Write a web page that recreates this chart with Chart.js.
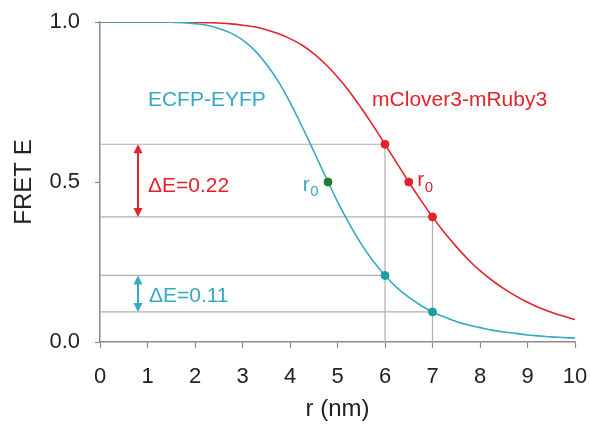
<!DOCTYPE html>
<html>
<head>
<meta charset="utf-8">
<script src="https://cdn.jsdelivr.net/npm/chart.js@4/dist/chart.umd.min.js"></script>
<style>
  html, body { margin: 0; padding: 0; background: #ffffff; }
  #c { display: block; }
</style>
</head>
<body>
<canvas id="c" width="590" height="427"></canvas>
<script>
// ---- data ----
const rValues = [0,0.25,0.5,0.75,1,1.25,1.5,1.75,2,2.25,2.5,2.75,3,3.25,3.5,3.75,4,4.25,4.5,4.75,5,5.25,5.5,5.75,6,6.25,6.5,6.75,7,7.25,7.5,7.75,8,8.25,8.5,8.75,9,9.25,9.5,9.75,10];
const ecfpE = [1.000,1.000,1.000,1.000,1.000,1.000,0.999,0.998,0.995,0.990,0.980,0.966,0.944,0.912,0.869,0.815,0.749,0.675,0.596,0.516,0.439,0.369,0.306,0.253,0.208,0.170,0.140,0.115,0.094,0.078,0.064,0.053,0.045,0.037,0.031,0.027,0.022,0.019,0.016,0.014,0.012];
const cloverE = [1.000,1.000,1.000,1.000,1.000,1.000,1.000,1.000,0.999,0.998,0.997,0.994,0.990,0.985,0.976,0.964,0.948,0.928,0.901,0.868,0.828,0.783,0.731,0.676,0.618,0.559,0.500,0.444,0.391,0.342,0.298,0.258,0.223,0.193,0.167,0.144,0.124,0.107,0.093,0.081,0.070];

const cloverPtsR = [6, 6.5, 7];
const cloverPtsE = [0.618, 0.500, 0.391];
const ecfpPtsR = [6, 7];
const ecfpPtsE = [0.208, 0.094];
const ecfpR0 = [4.8];
const ecfpR0E = [0.5];

const xTicks = [0,1,2,3,4,5,6,7,8,9,10];
const yTicks = [0.0, 0.5, 1.0];

const deltaRed = [0.618, 0.391];   // ΔE = 0.22
const deltaCyan = [0.208, 0.094];  // ΔE = 0.11
const arrowR = 0.8;

// ---- styling ----
const RED = '#e4222c';
const CYAN = '#36a9c4';
const TEAL = '#1c9ea2';
const GREEN = '#1f7f2c';
const GRAY = '#b0b0b0';
const AXIS = '#8a8a8a';
const FONT = '"Liberation Sans", Arial, Helvetica, sans-serif';

const pts = (xs, ys) => xs.map((x, i) => ({x: x, y: ys[i]}));

// reference (guide) lines built from the marked points
const guideSets = [
  pts([0, cloverPtsR[0], cloverPtsR[0]], [cloverPtsE[0], cloverPtsE[0], 0]),
  pts([0, cloverPtsR[2], cloverPtsR[2]], [cloverPtsE[2], cloverPtsE[2], 0]),
  pts([0, ecfpPtsR[0]], [ecfpPtsE[0], ecfpPtsE[0]]),
  pts([0, ecfpPtsR[1]], [ecfpPtsE[1], ecfpPtsE[1]])
].map(d => ({
  data: d, borderColor: GRAY, borderWidth: 1.2, pointRadius: 0, tension: 0, order: 5
}));

const annotations = [
  {text: 'ECFP-EYFP', x: 2.25, y: 0.757, color: CYAN, align: 'center'},
  {text: 'mClover3-mRuby3', x: 7.57, y: 0.757, color: RED, align: 'center'},
  {text: 'ΔE=0.22', x: 1.01, y: 0.486, color: RED, align: 'left'},
  {text: 'ΔE=0.11', x: 1.03, y: 0.142, color: CYAN, align: 'left'}
];
const subLabels = [
  {x: 4.27, y: 0.49, color: CYAN},
  {x: 6.68, y: 0.505, color: RED}
];

const overlay = {
  id: 'overlay',
  afterDatasetsDraw(chart) {
    const {ctx, scales: {x, y}} = chart;
    ctx.save();
    // double arrows
    const arrow = (r, e1, e2, color) => {
      const px = x.getPixelForValue(r);
      const y1 = y.getPixelForValue(e1);
      const y2 = y.getPixelForValue(e2);
      ctx.strokeStyle = color; ctx.fillStyle = color; ctx.lineWidth = 2;
      ctx.beginPath(); ctx.moveTo(px, y1 + 6); ctx.lineTo(px, y2 - 6); ctx.stroke();
      ctx.beginPath(); ctx.moveTo(px, y1); ctx.lineTo(px - 4.5, y1 + 9); ctx.lineTo(px + 4.5, y1 + 9); ctx.closePath(); ctx.fill();
      ctx.beginPath(); ctx.moveTo(px, y2); ctx.lineTo(px - 4.5, y2 - 9); ctx.lineTo(px + 4.5, y2 - 9); ctx.closePath(); ctx.fill();
    };
    arrow(arrowR, deltaRed[0], deltaRed[1], RED);
    arrow(arrowR, deltaCyan[0], deltaCyan[1], CYAN);

    ctx.font = '21px ' + FONT;
    ctx.textBaseline = 'middle';
    annotations.forEach(a => {
      ctx.fillStyle = a.color;
      ctx.textAlign = a.align;
      ctx.fillText(a.text, x.getPixelForValue(a.x), y.getPixelForValue(a.y));
    });
    // r0 labels with subscript
    subLabels.forEach(s => {
      const px = x.getPixelForValue(s.x);
      const py = y.getPixelForValue(s.y);
      ctx.fillStyle = s.color;
      ctx.textAlign = 'left';
      ctx.font = '21px ' + FONT;
      ctx.fillText('r', px, py);
      const w = ctx.measureText('r').width;
      ctx.font = '15px ' + FONT;
      ctx.fillText('0', px + w + 0.5, py + 7);
    });
    ctx.restore();
  }
};

new Chart(document.getElementById('c'), {
  type: 'line',
  data: {
    datasets: [
      ...guideSets,
      {data: pts(rValues, ecfpE), borderColor: CYAN, borderWidth: 1.6, pointRadius: 0, cubicInterpolationMode: 'monotone', order: 3},
      {data: pts(rValues, cloverE), borderColor: RED, borderWidth: 1.6, pointRadius: 0, cubicInterpolationMode: 'monotone', order: 3},
      {data: pts(cloverPtsR, cloverPtsE), showLine: false, pointRadius: 4, pointBackgroundColor: RED, pointBorderColor: RED, order: 1},
      {data: pts(ecfpPtsR, ecfpPtsE), showLine: false, pointRadius: 4, pointBackgroundColor: TEAL, pointBorderColor: TEAL, order: 1},
      {data: pts(ecfpR0, ecfpR0E), showLine: false, pointRadius: 4, pointBackgroundColor: GREEN, pointBorderColor: GREEN, order: 1}
    ]
  },
  options: {
    responsive: false,
    devicePixelRatio: 1,
    animation: false,
    events: [],
    layout: {padding: {left: 0, right: 15, top: 22, bottom: 0}},
    plugins: {legend: {display: false}, tooltip: {enabled: false}},
    scales: {
      x: {
        type: 'linear', min: 0, max: 10,
        afterBuildTicks: s => { s.ticks = xTicks.map(v => ({value: v})); },
        afterFit: s => { s.height = 85; s.paddingLeft = 0; s.paddingRight = 0; },
        ticks: {font: {family: FONT, size: 22}, color: '#222', padding: 16, maxRotation: 0},
        grid: {drawOnChartArea: false, drawTicks: true, tickLength: 6, color: AXIS, tickWidth: 1.2},
        border: {color: AXIS, width: 1.5},
        title: {display: true, text: 'r (nm)', font: {family: FONT, size: 24}, color: '#222', padding: {top: 0, bottom: 3}}
      },
      y: {
        type: 'linear', min: 0, max: 1,
        afterBuildTicks: s => { s.ticks = yTicks.map(v => ({value: v})); },
        afterFit: s => { s.width = 100; s.paddingTop = 0; s.paddingBottom = 0; },
        ticks: {font: {family: FONT, size: 22}, color: '#222', padding: 15, callback: v => Number(v).toFixed(1)},
        grid: {drawOnChartArea: false, drawTicks: true, tickLength: 5, color: AXIS, tickWidth: 1.2},
        border: {color: AXIS, width: 1.5},
        title: {display: true, text: 'FRET E', font: {family: FONT, size: 24}, color: '#222', padding: {top: 10, bottom: 0}}
      }
    }
  },
  plugins: [overlay]
});
</script>
</body>
</html>
